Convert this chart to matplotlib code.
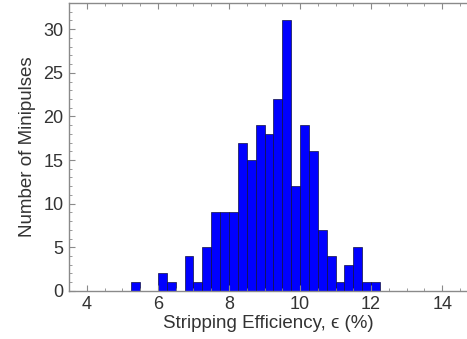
import numpy as np
import matplotlib.pyplot as plt
from matplotlib.ticker import MultipleLocator

plt.rcParams['font.family'] = ['Liberation Sans', 'DejaVu Sans']

# histogram bins (left edges, width 0.25) and counts
bin_left = [5.25, 6.0, 6.25, 6.75, 7.0, 7.25, 7.5, 7.75, 8.0, 8.25, 8.5, 8.75,
            9.0, 9.25, 9.5, 9.75, 10.0, 10.25, 10.5, 10.75, 11.0, 11.25, 11.5,
            11.75, 12.0]
counts = [1, 2, 1, 4, 1, 5, 9, 9, 9, 17, 15, 19,
          18, 22, 31, 12, 19, 16, 7, 4, 1, 3, 5,
          1, 1]
bin_width = 0.25

fig = plt.figure(figsize=(4.67, 3.39), dpi=100)
ax = fig.add_axes([0.148, 0.142, 0.852, 0.849])

ax.bar(bin_left, counts, width=bin_width, align='edge',
       color='#0000ff', edgecolor='#101040', linewidth=0.5)

ax.set_xlim(3.5, 14.7)
ax.set_ylim(0, 33)
ax.xaxis.set_major_locator(MultipleLocator(2))
ax.xaxis.set_minor_locator(MultipleLocator(0.5))
ax.yaxis.set_major_locator(MultipleLocator(5))
ax.yaxis.set_minor_locator(MultipleLocator(1))

grey = '#8a8a8a'
for side in ['left', 'bottom', 'top']:
    ax.spines[side].set_color(grey)
    ax.spines[side].set_linewidth(1.0)
ax.spines['right'].set_visible(False)

ax.tick_params(which='both', direction='in', top=True, right=False, color=grey,
               labelcolor='#333333', labelsize=13)
ax.tick_params(which='major', length=4, width=0.8, pad=4)
ax.tick_params(which='minor', length=2, width=0.6)

ax.set_xlabel('Stripping Efficiency, \u03f5 (%)', fontsize=13.5, color='#333333', labelpad=1)
ax.set_ylabel('Number of Minipulses', fontsize=13.5, color='#333333', labelpad=5)

fig.savefig('out.png', dpi=100)
